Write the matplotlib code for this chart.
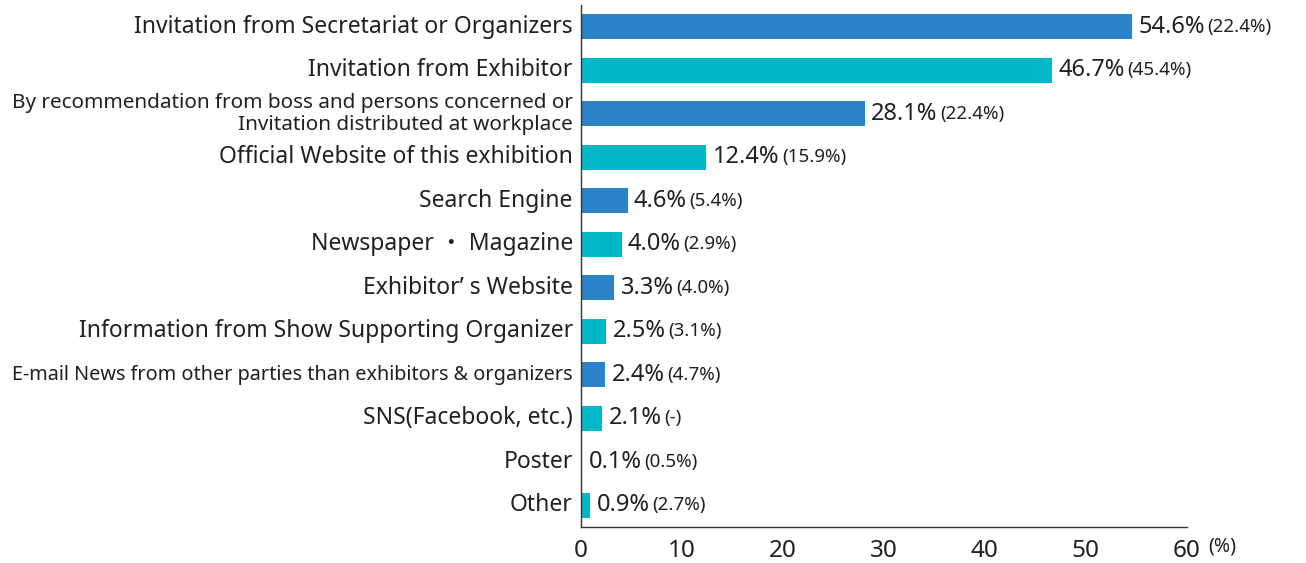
import matplotlib

matplotlib.use("Agg")
import matplotlib.pyplot as plt

plt.rcParams["font.family"] = ["Noto Sans", "Noto Sans CJK JP", "DejaVu Sans"]

CATEGORIES = [
    "Invitation from Secretariat or Organizers",
    "Invitation from Exhibitor",
    "By recommendation from boss and persons concerned or\nInvitation distributed at workplace",
    "Official Website of this exhibition",
    "Search Engine",
    "Newspaper ・ Magazine",
    "Exhibitor’ s Website",
    "Information from Show Supporting Organizer",
    "E-mail News from other parties than exhibitors & organizers",
    "SNS(Facebook, etc.)",
    "Poster",
    "Other",
]
VALUES = [54.6, 46.7, 28.1, 12.4, 4.6, 4.0, 3.3, 2.5, 2.4, 2.1, 0.1, 0.9]
PREV = ["22.4%", "45.4%", "22.4%", "15.9%", "5.4%", "2.9%",
        "4.0%", "3.1%", "4.7%", "-", "0.5%", "2.7%"]
TICKS = [0, 10, 20, 30, 40, 50, 60]

BLUE = "#2a82c8"
TEAL = "#00b8c8"
TEXT = "#231f20"

fig = plt.figure(figsize=(13.06, 5.63), dpi=100)
ax = fig.add_axes([0.445, 0.064, 0.4635, 0.927])

ypos = list(range(len(CATEGORIES)))
colors = [BLUE if i % 2 == 0 else TEAL for i in ypos]
ax.barh(ypos, VALUES, height=0.58, color=colors)

ax.set_xlim(0, 60)
ax.set_ylim(11.5, -0.5)
ax.set_xticks(TICKS)
ax.set_xticklabels([str(t) for t in TICKS], fontsize=17.5, color=TEXT)
ax.set_yticks(ypos)
ax.set_yticklabels([])
ax.tick_params(axis="both", length=0)
ax.tick_params(axis="x", pad=9)
for side in ("top", "right"):
    ax.spines[side].set_visible(False)
for side in ("left", "bottom"):
    ax.spines[side].set_color("#333333")
    ax.spines[side].set_linewidth(1.0)

# category labels, right-aligned against the axis
for i, cat in enumerate(CATEGORIES):
    kw = dict(fontsize=16.5)
    if i == 2:
        kw = dict(fontsize=14.9, linespacing=1.12)
    elif i == 8:
        kw = dict(fontsize=14.3)
    ax.annotate(cat, xy=(0, i), xycoords=("axes fraction", "data"),
                xytext=(-6, 0), textcoords="offset points",
                ha="right", va="center", ma="right", color=TEXT, **kw)

# value labels with last year's figure in brackets
for i, (v, p) in enumerate(zip(VALUES, PREV)):
    t = ax.annotate(f"{v:.1f}%", xy=(v, i), xytext=(4.5, 0),
                    textcoords="offset points", ha="left", va="center",
                    fontsize=17, color=TEXT)
    ax.annotate(f"({p})", xy=(1, 0.5), xycoords=t, xytext=(2, 0),
                textcoords="offset points", ha="left", va="center",
                fontsize=13.5, color=TEXT)

ax.annotate("(%)", xy=(1, 0), xycoords="axes fraction", xytext=(16, -14),
            textcoords="offset points", ha="left", va="center",
            fontsize=14, color=TEXT)

fig.savefig("out.png", dpi=100)
